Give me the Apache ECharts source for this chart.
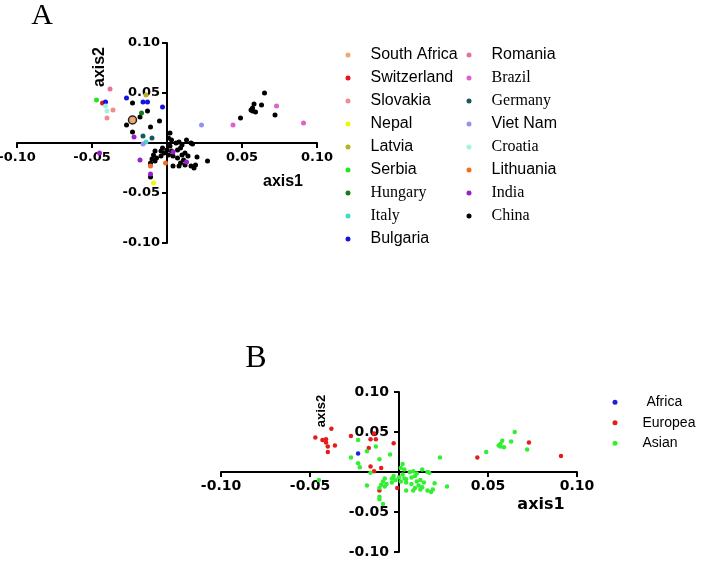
<!DOCTYPE html>
<html>
<head>
<meta charset="UTF-8">
<title>axis1 / axis2</title>
<style>
  html, body { margin: 0; padding: 0; background: #fff; }
  #main { width: 720px; height: 563px; }
</style>
<script src="https://cdn.jsdelivr.net/npm/echarts@6/dist/echarts.min.js"></script>
</head>
<body>
<div id="main"></div>
<script>
// axis ticks
var tickValues = [-0.10, -0.05, 0, 0.05, 0.10];

// points per country [axis1, axis2]
var southAfrica = [[-0.023, 0.023]];
var switzerland = [[-0.043, 0.040]];
var slovakia = [[-0.036, 0.033], [-0.040, 0.025]];
var nepal = [[-0.009, -0.040]];
var latvia = [[-0.014, 0.048]];
var serbia = [[-0.047, 0.043]];
var hungary = [[-0.017, 0.030]];
var italy = [[-0.014, 0.001]];
var bulgaria = [[-0.041, 0.041], [-0.027, 0.045], [-0.016, 0.041], [-0.013, 0.041], [-0.003, 0.036]];
var romania = [[-0.038, 0.054]];
var brazil = [[0.044, 0.018], [0.073, 0.037], [0.091, 0.020]];
var germany = [[-0.016, 0.007], [-0.010, 0.005]];
var vietNam = [[-0.016, -0.001], [0.023, 0.018]];
var croatia = [[-0.041, 0.037], [-0.040, 0.032]];
var lithuania = [[-0.011, -0.023], [-0.001, -0.020]];
var india = [[-0.022, 0.006], [-0.045, -0.010], [-0.018, -0.017], [0.004, -0.009], [0.013, -0.019], [-0.011, -0.031]];
var china = [
  [-0.023, 0.040], [-0.013, 0.032], [-0.018, 0.026], [-0.027, 0.018], [-0.005, 0.022],
  [-0.011, 0.016], [-0.023, 0.011], [-0.011, -0.034],
  [0.065, 0.050], [0.058, 0.039], [0.057, 0.035], [0.056, 0.033], [0.057, 0.032],
  [0.059, 0.031], [0.063, 0.038], [0.049, 0.025], [0.072, 0.028],
  [0.002, 0.010], [0.001, 0.005], [0.003, 0.003], [0.006, 0.000], [0.008, 0.001],
  [0.010, -0.002], [0.013, 0.003], [0.016, 0.000], [0.009, -0.005], [0.007, -0.007],
  [0.002, -0.003], [0.000, -0.007], [-0.003, -0.005], [-0.004, -0.008], [-0.008, -0.008],
  [-0.009, -0.012], [-0.007, -0.015], [-0.004, -0.013], [-0.002, -0.010], [0.001, -0.012],
  [0.003, -0.008], [0.004, -0.013], [0.007, -0.015], [0.010, -0.012], [0.012, -0.010],
  [0.014, -0.013], [0.011, -0.017], [0.009, -0.020], [0.012, -0.022], [0.016, -0.023],
  [0.018, -0.025], [0.019, -0.022], [0.020, -0.014], [0.027, -0.018], [0.004, -0.023],
  [0.008, -0.023], [-0.008, -0.018], [-0.010, -0.016], [-0.011, -0.020], [0.017, -0.001]
];

var countries = [
  { name: 'South Africa', color: '#efa86e', data: southAfrica, serif: false, region: ' Africa' },
  { name: 'Switzerland', color: '#e8141c', data: switzerland, serif: false, region: 'Europea' },
  { name: 'Slovakia', color: '#f28c8c', data: slovakia, serif: false, region: 'Europea' },
  { name: 'Nepal', color: '#f5f500', data: nepal, serif: false, region: 'Asian' },
  { name: 'Latvia', color: '#b4b41e', data: latvia, serif: false, region: 'Europea' },
  { name: 'Serbia', color: '#22e622', data: serbia, serif: false, region: 'Europea' },
  { name: 'Hungary', color: '#1a7a1a', data: hungary, serif: true, region: 'Europea' },
  { name: 'Italy', color: '#40dcc0', data: italy, serif: true, region: 'Europea' },
  { name: 'Bulgaria', color: '#1414e0', data: bulgaria, serif: false, region: 'Europea' },
  { name: 'Romania', color: '#e8709a', data: romania, serif: false, region: 'Europea' },
  { name: 'Brazil', color: '#e060cc', data: brazil, serif: true, region: 'Europea' },
  { name: 'Germany', color: '#1a5660', data: germany, serif: true, region: 'Europea' },
  { name: 'Viet Nam', color: '#9494f0', data: vietNam, serif: false, region: 'Asian' },
  { name: 'Croatia', color: '#a8f0e0', data: croatia, serif: true, region: 'Europea' },
  { name: 'Lithuania', color: '#f07020', data: lithuania, serif: false, region: 'Europea' },
  { name: 'India', color: '#9a20c8', data: india, serif: true, region: 'Asian' },
  { name: 'China', color: '#000000', data: china, serif: true, region: 'Asian' }
];

var regions = [
  { name: ' Africa', color: '#2020d8' },
  { name: 'Europea', color: '#e41c1c' },
  { name: 'Asian', color: '#33ee33' }
];

var chart = echarts.init(document.getElementById('main'));

function tickFmt(v) {
  return Math.abs(v) < 1e-9 ? '' : v.toFixed(2);
}

// axes are pulled to the middle of the grid with a negative offset
function makeAxis(idx, fontSize, margin, offset) {
  return {
    type: 'value',
    gridIndex: idx,
    min: -0.10,
    max: 0.10,
    interval: 0.05,
    offset: offset,
    axisLine: { onZero: false, lineStyle: { color: '#000', width: 2 } },
    axisTick: { show: true, length: 5, lineStyle: { color: '#000', width: 2 } },
    axisLabel: {
      formatter: tickFmt, color: '#000', fontWeight: 'bold',
      fontFamily: 'DejaVu Sans', fontSize: fontSize, margin: margin
    },
    splitLine: { show: false }
  };
}

var series = [];
countries.forEach(function (c) {
  var isSA = c.name === 'South Africa';
  series.push({
    name: c.name,
    type: 'scatter',
    xAxisIndex: 0,
    yAxisIndex: 0,
    symbolSize: isSA ? 8 : 5,
    itemStyle: isSA ? { color: c.color, opacity: 1, borderColor: '#222', borderWidth: 1.5 } : { color: c.color, opacity: 1 },
    z: c.name === 'China' ? 3 : 4,
    data: c.data
  });
});
regions.forEach(function (r) {
  var pts = [];
  countries.forEach(function (c) {
    if (c.region === r.name) pts = pts.concat(c.data);
  });
  series.push({
    name: r.name,
    type: 'scatter',
    xAxisIndex: 1,
    yAxisIndex: 1,
    symbolSize: 4.5,
    itemStyle: { color: r.color, opacity: 1 },
    data: pts
  });
});

function legendItems(list) {
  return list.map(function (c) {
    return {
      name: c.name,
      itemStyle: { borderWidth: 0 },
      textStyle: {
        fontFamily: c.serif ? 'Liberation Serif' : 'Liberation Sans',
        fontSize: 16, color: '#000', padding: [0, 0, 0, 15], lineHeight: 23
      }
    };
  });
}

var option = {
  animation: false,
  backgroundColor: '#fff',
  grid: [
    { left: 17, top: 43, width: 300, height: 200, outerBoundsMode: 'none', containLabel: false },
    { left: 221, top: 392, width: 356, height: 160, outerBoundsMode: 'none', containLabel: false }
  ],
  xAxis: [makeAxis(0, 13, 8, -100), makeAxis(1, 14, 7, -80)],
  yAxis: [makeAxis(0, 13, 7, -150), makeAxis(1, 14, 10, -178)],
  legend: [
    {
      orient: 'vertical', left: 345.5, top: 43.5, padding: 0, itemGap: 0,
      itemWidth: 5, itemHeight: 5, icon: 'circle',
      textStyle: { fontSize: 16, padding: [0, 0, 0, 15], lineHeight: 23 },
      data: legendItems(countries.slice(0, 9))
    },
    {
      orient: 'vertical', left: 466.5, top: 43.5, padding: 0, itemGap: 0,
      itemWidth: 5, itemHeight: 5, icon: 'circle',
      textStyle: { fontSize: 16, padding: [0, 0, 0, 15], lineHeight: 23 },
      data: legendItems(countries.slice(9))
    },
    {
      orient: 'vertical', left: 612.5, top: 392, padding: 0, itemGap: 0,
      itemWidth: 5, itemHeight: 5, icon: 'circle',
      textStyle: { fontFamily: 'Liberation Sans', fontSize: 14, color: '#000', padding: [0, 0, 0, 20], lineHeight: 20.5 },
      data: regions.map(function (r) { return r.name; })
    }
  ],
  graphic: [
    { type: 'text', x: 42, y: 16, style: { text: 'A', font: '30px "Liberation Serif"', fill: '#000', align: 'center', verticalAlign: 'middle' } },
    { type: 'text', x: 256, y: 359, style: { text: 'B', font: '32px "Liberation Serif"', fill: '#000', align: 'center', verticalAlign: 'middle' } },
    { type: 'text', x: 283, y: 182, style: { text: 'axis1', font: 'bold 16px "Liberation Sans"', fill: '#000', align: 'center', verticalAlign: 'middle' } },
    { type: 'text', x: 100, y: 67, rotation: Math.PI / 2, style: { text: 'axis2', font: 'bold 16px "Liberation Sans"', fill: '#000', align: 'center', verticalAlign: 'middle' } },
    { type: 'text', x: 541, y: 505, style: { text: 'axis1', font: 'bold 16px "DejaVu Sans"', fill: '#000', align: 'center', verticalAlign: 'middle' } },
    { type: 'text', x: 321, y: 411, rotation: Math.PI / 2, style: { text: 'axis2', font: 'bold 13px "Liberation Sans"', fill: '#000', align: 'center', verticalAlign: 'middle' } }
  ],
  series: series
};

chart.setOption(option);
</script>
</body>
</html>
